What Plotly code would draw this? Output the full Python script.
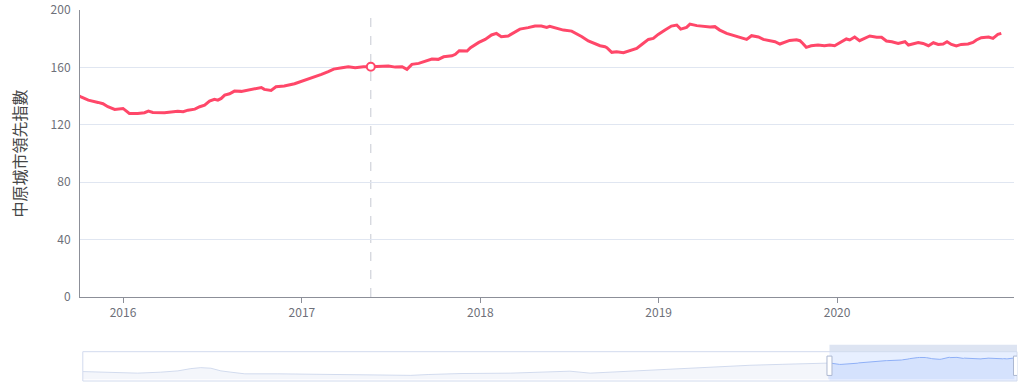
import plotly.graph_objects as go

# ---------------- data ----------------
SERIES_NAME = "中原城市領先指數"

# long history (read from the overview slider, coarse)
hist_dates = [
    "1994-12-05", "1995-09-16", "1996-06-17", "1997-02-06", "1997-07-31", "1997-12-09",
    "1998-03-21", "1998-07-02", "1998-10-12", "1999-01-22", "1999-06-13", "2000-05-15",
    "2002-03-29", "2003-08-22", "2004-01-30", "2004-07-24", "2005-06-24", "2006-11-13",
    "2008-03-10", "2008-07-08", "2009-01-30", "2009-10-30", "2010-10-01", "2011-09-02",
    "2012-08-15", "2013-07-16", "2014-06-18", "2015-09-20",
]
hist_values = [
    65.8, 57.3, 52.2, 60.7, 71.8, 91.3,
    99.8, 94.7, 71.8, 60.7, 46.3, 46.3,
    40.3, 31.8, 33.0, 40.3, 48.8, 52.2,
    63.3, 69.2, 52.2, 63.3, 80.3, 94.7,
    108.3, 120.2, 128.7, 142.3,
]

# visible window
main_dates = [
    "2015-10-07", "2015-10-22", "2015-11-11", "2015-11-21", "2015-12-01", "2015-12-15",
    "2016-01-01", "2016-01-14", "2016-01-31", "2016-02-14", "2016-02-22", "2016-03-02",
    "2016-03-26", "2016-04-09", "2016-04-22", "2016-05-03", "2016-05-13", "2016-05-27",
    "2016-06-06", "2016-06-16", "2016-06-26", "2016-07-06", "2016-07-13", "2016-07-20",
    "2016-07-27", "2016-08-06", "2016-08-16", "2016-08-30", "2016-09-19", "2016-10-10",
    "2016-10-16", "2016-10-30", "2016-11-09", "2016-11-26", "2016-12-17", "2017-01-07",
    "2017-01-20", "2017-02-03", "2017-02-10", "2017-02-24", "2017-03-07", "2017-03-24",
    "2017-04-06", "2017-04-20", "2017-05-07", "2017-05-22", "2017-06-07", "2017-06-27",
    "2017-07-11", "2017-07-25", "2017-08-04", "2017-08-14", "2017-08-28", "2017-09-10",
    "2017-09-24", "2017-10-07", "2017-10-18", "2017-11-04", "2017-11-11", "2017-11-19",
    "2017-12-05", "2017-12-12", "2017-12-29", "2018-01-11", "2018-01-24", "2018-02-03",
    "2018-02-13", "2018-02-27", "2018-03-13", "2018-03-23", "2018-04-09", "2018-04-23",
    "2018-05-06", "2018-05-17", "2018-05-23", "2018-06-06", "2018-06-20", "2018-07-07",
    "2018-07-17", "2018-07-28", "2018-08-10", "2018-08-24", "2018-09-03", "2018-09-13",
    "2018-09-17", "2018-09-27", "2018-10-07", "2018-10-21", "2018-11-03", "2018-11-17",
    "2018-11-30", "2018-12-11", "2018-12-21", "2018-12-31", "2019-01-14", "2019-01-27",
    "2019-02-07", "2019-02-15", "2019-02-27", "2019-03-06", "2019-03-20", "2019-04-02",
    "2019-04-16", "2019-04-26", "2019-05-06", "2019-05-20", "2019-06-09", "2019-06-30",
    "2019-07-10", "2019-07-24", "2019-08-03", "2019-08-17", "2019-08-27", "2019-09-06",
    "2019-09-16", "2019-09-26", "2019-10-10", "2019-10-17", "2019-10-23", "2019-10-30",
    "2019-11-09", "2019-11-23", "2019-12-06", "2019-12-17", "2019-12-27", "2020-01-06",
    "2020-01-20", "2020-01-27", "2020-02-06", "2020-02-16", "2020-02-26", "2020-03-08",
    "2020-03-22", "2020-04-01", "2020-04-11", "2020-04-22", "2020-05-05", "2020-05-19",
    "2020-05-26", "2020-06-05", "2020-06-15", "2020-06-25", "2020-07-06", "2020-07-16",
    "2020-07-26", "2020-08-05", "2020-08-13", "2020-08-22", "2020-09-01", "2020-09-11",
    "2020-09-25", "2020-10-05", "2020-10-12", "2020-10-22", "2020-10-29", "2020-11-06",
    "2020-11-15", "2020-11-25", "2020-12-02",
]
main_values = [
    139.5, 137.2, 135.6, 134.7, 132.6, 130.7,
    131.4, 127.9, 127.9, 128.4, 129.5, 128.6,
    128.4, 128.8, 129.5, 129.1, 130.2, 130.9,
    132.6, 133.7, 136.5, 137.7, 137.2, 138.4,
    140.7, 141.6, 143.5, 143.3, 144.4, 146.0,
    144.7, 144.0, 146.5, 147.0, 148.6, 150.9,
    152.3, 154.2, 155.1, 157.0, 158.8, 159.8,
    160.5, 159.8, 160.5, 160.5, 160.9, 160.9,
    160.2, 160.5, 158.6, 162.1, 162.8, 164.0,
    165.8, 165.6, 167.4, 168.1, 169.1, 171.6,
    171.4, 173.7, 177.4, 179.5, 182.6, 183.7,
    181.4, 181.9, 184.4, 186.7, 187.7, 188.8,
    188.8, 187.9, 188.6, 187.2, 186.0, 185.3,
    183.7, 181.4, 178.4, 176.3, 175.1, 174.4,
    173.7, 170.5, 170.9, 170.2, 171.6, 173.3,
    176.7, 179.5, 180.2, 183.0, 186.0, 188.8,
    189.5, 186.7, 187.9, 190.2, 189.1, 188.8,
    188.1, 188.4, 186.0, 183.7, 181.4, 179.5,
    182.1, 181.2, 179.5, 178.4, 177.9, 176.3,
    177.3, 178.8, 179.3, 178.6, 176.7, 174.0,
    175.1, 175.6, 175.1, 175.6, 175.1, 177.2,
    179.8, 179.1, 181.2, 178.6, 180.2, 181.9,
    181.0, 181.0, 178.4, 177.9, 176.7, 177.9,
    175.6, 176.7, 177.4, 176.7, 175.1, 177.2,
    176.0, 176.3, 177.9, 176.0, 174.9, 176.0,
    176.3, 177.4, 179.1, 180.7, 181.0, 181.2,
    180.2, 183.0, 183.7,
]

Y_TICKS = [0, 40, 80, 120, 160, 200]
X_START = "2015-10-05"      # visible window (dataZoom) start
X_END = "2020-12-28"        # visible window end
POINTER_DATE = "2017-05-22"  # tooltip axis pointer position

# ---------------- styling ----------------
LINE_COLOR = "#FF4769"
AXIS_COLOR = "#8C8F98"
LABEL_COLOR = "#6E7079"
GRID_COLOR = "#E0E6F1"
FONT = "Noto Sans CJK TC, Noto Sans, sans-serif"

dates = hist_dates + main_dates
values = hist_values + main_values

vmin, vmax = min(values), max(values)
pad = (vmax - vmin) * 0.3

fig = go.Figure()

# main line
fig.add_trace(go.Scatter(
    x=dates, y=values, mode="lines", name=SERIES_NAME,
    line=dict(color=LINE_COLOR, width=3),
    xaxis="x", yaxis="y", showlegend=False,
))

# tooltip pointer marker
pi = dates.index(POINTER_DATE)
fig.add_trace(go.Scatter(
    x=[dates[pi]], y=[values[pi]], mode="markers",
    marker=dict(size=8, color="white", line=dict(color=LINE_COLOR, width=2)),
    xaxis="x", yaxis="y", showlegend=False, cliponaxis=False,
))

# overview (data zoom slider)
before = [i for i, d in enumerate(dates) if d <= X_START]
if len(before) < len(dates):
    before = before + [len(before)]
inside = [i for i, d in enumerate(dates) if d >= dates[before[-1] - 1]]

fig.add_trace(go.Scatter(
    x=[dates[i] for i in before], y=[values[i] for i in before],
    mode="lines", line=dict(color="#D2DBEE", width=1),
    fill="tozeroy", fillcolor="rgba(210,219,238,0.25)",
    xaxis="x2", yaxis="y2", showlegend=False, hoverinfo="skip",
))
fig.add_trace(go.Scatter(
    x=[dates[i] for i in inside], y=[values[i] for i in inside],
    mode="lines", line=dict(color="#8FB0F7", width=1),
    fill="tozeroy", fillcolor="rgba(143,176,247,0.2)",
    xaxis="x2", yaxis="y2", showlegend=False, hoverinfo="skip",
))

shapes = [
    # slider selection filler
    dict(type="rect", xref="x2", yref="y2 domain", x0=X_START, x1=X_END, y0=0, y1=1,
         fillcolor="rgba(135,175,255,0.2)", line=dict(width=0), layer="below"),
    # slider frame
    dict(type="rect", xref="x2 domain", yref="y2 domain", x0=0, x1=1, y0=0, y1=1,
         line=dict(color="#D2DBEE", width=1), fillcolor="rgba(0,0,0,0)"),
    # move handle bar
    dict(type="rect", xref="x2", yref="y2 domain", x0=X_START, x1=X_END, y0=1, y1=1.24,
         fillcolor="rgba(210,219,238,0.75)", line=dict(width=0)),
    # handles
    dict(type="rect", xref="x2", xsizemode="pixel", xanchor=X_START, x0=-2.5, x1=2.5,
         yref="y2 domain", y0=0.19, y1=0.85, fillcolor="white",
         line=dict(color="#ACB8D1", width=1)),
    dict(type="rect", xref="x2", xsizemode="pixel", xanchor=X_END, x0=-3.5, x1=1.5,
         yref="y2 domain", y0=0.19, y1=0.85, fillcolor="white",
         line=dict(color="#ACB8D1", width=1)),
    # tooltip axis pointer
    dict(type="line", xref="x", yref="y domain", x0=POINTER_DATE, x1=POINTER_DATE,
         y0=0, y1=1, line=dict(color="#C6C9D2", width=1, dash="dash"), layer="below"),
]

fig.update_layout(
    template="none",
    width=1024, height=388,
    margin=dict(l=80, r=7, t=10, b=7, autoexpand=False),
    paper_bgcolor="white", plot_bgcolor="white",
    font=dict(family=FONT, size=12, color=LABEL_COLOR),
    showlegend=False,
    shapes=shapes,
    xaxis=dict(
        domain=[0, 0.9968], anchor="y", type="date", automargin=False,
        range=[X_START, X_END],
        showline=True, linecolor=AXIS_COLOR, linewidth=1,
        ticks="outside", ticklen=5, tickcolor=AXIS_COLOR,
        tick0="2016-01-01", dtick="M12", tickformat="%Y",
        showgrid=False, zeroline=False,
        tickfont=dict(size=12, color=LABEL_COLOR),
    ),
    yaxis=dict(
        domain=[0.2264, 1], anchor="x", automargin=False,
        range=[0, 200], tickvals=Y_TICKS,
        showline=True, linecolor=AXIS_COLOR, linewidth=1,
        ticks="", ticklabelstandoff=6,
        showgrid=True, gridcolor=GRID_COLOR, gridwidth=1,
        zeroline=False,
        tickfont=dict(size=12, color=LABEL_COLOR),
    ),
    xaxis2=dict(domain=[0.003, 1], anchor="y2", type="date", automargin=False,
                range=[dates[0], X_END], visible=False, fixedrange=True),
    yaxis2=dict(domain=[0, 0.079], anchor="x2", automargin=False,
                range=[vmin - pad, vmax + pad], visible=False, fixedrange=True),
    annotations=[dict(
        text=SERIES_NAME, textangle=-90, showarrow=False,
        xref="paper", x=0, xanchor="center", xshift=-61,
        yref="y domain", y=0.5, yanchor="middle",
        font=dict(family=FONT, size=16, color="#464646"),
    )],
)

fig.write_html("out.html", config={"displayModeBar": False},
               post_script="document.body.style.margin='0';")
